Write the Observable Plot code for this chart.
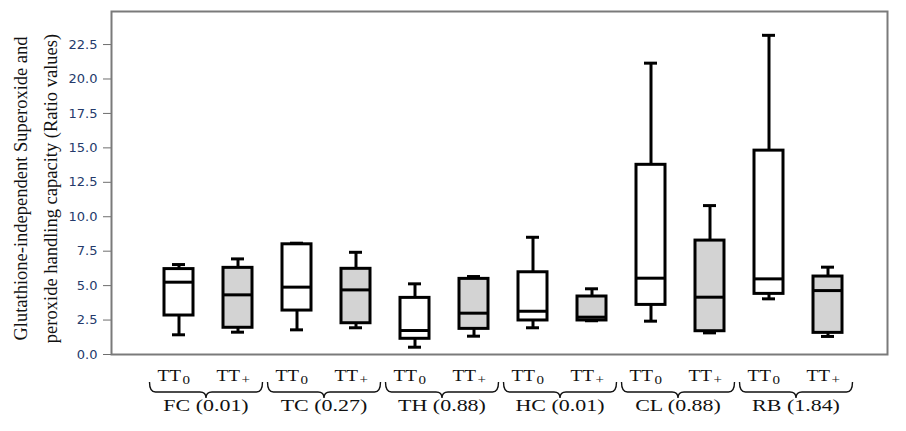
<!DOCTYPE html>
<html><head><meta charset="utf-8">
<script src="https://cdn.jsdelivr.net/npm/d3@7"></script>
<script src="https://cdn.jsdelivr.net/npm/@observablehq/plot@0.6"></script>
<style>body{margin:0;background:#fff}#chart{width:906px;height:431px}</style>
</head><body><div id="chart"></div>
<script>
const groups = ["FC", "TC", "TH", "HC", "CL", "RB"];
const groupLabels = ["FC (0.01)", "TC (0.27)", "TH (0.88)", "HC (0.01)", "CL (0.88)", "RB (1.84)"];
const treatments = ["TT0", "TT+"];
const subscripts = ["0", "+"];
const boxFills = ["#ffffff", "#d3d3d3"];
// order: FC TT0, FC TT+, TC TT0, TC TT+, ...
const whiskerLow  = [1.43, 1.62, 1.79, 1.94, 0.53, 1.33, 1.94, 2.45, 2.42, 1.57, 4.04, 1.31];
const q1          = [2.83, 1.94, 3.19, 2.27, 1.14, 1.86, 2.47, 2.47, 3.60, 1.69, 4.40, 1.57];
const median      = [5.25, 4.33, 4.89, 4.69, 1.74, 3.00, 3.14, 2.71, 5.54, 4.16, 5.49, 4.64];
const q3          = [6.20, 6.29, 8.00, 6.22, 4.11, 5.49, 5.97, 4.21, 13.77, 8.27, 14.80, 5.66];
const whiskerHigh = [6.53, 6.94, 8.08, 7.42, 5.13, 5.66, 8.51, 4.77, 21.15, 10.81, 23.17, 6.34];
const yTicks = [0, 2.5, 5, 7.5, 10, 12.5, 15, 17.5, 20, 22.5];
const yTitle = "Glutathione-independent Superoxide and\nperoxide handling capacity (Ratio values)";

const rows = [];
groups.forEach((g, gi) => treatments.forEach((t, ti) => {
  const i = gi * 2 + ti;
  rows.push({key: g + "|" + t, group: g, ti, sub: subscripts[ti], fill: boxFills[ti],
    low: whiskerLow[i], q1: q1[i], med: median[i], q3: q3[i], high: whiskerHigh[i]});
}));
const groupRows = groups.map((g, gi) => ({key: g + "|" + treatments[0], label: groupLabels[gi]}));

const serif = "'Liberation Serif', 'Times New Roman', serif";
const plot = Plot.plot({
  width: 906, height: 431,
  marginLeft: 111, marginRight: 19, marginTop: 11, marginBottom: 77,
  style: {background: "#fff", fontFamily: "'DejaVu Sans', sans-serif"},
  x: {domain: rows.map(d => d.key), paddingInner: 0.508, paddingOuter: 0.83, align: 0.536, axis: null},
  y: {domain: [0, 24.9], axis: null},
  marks: [
    Plot.axisY(yTicks, {tickSize: 8, tickPadding: 6, tickFormat: d => d.toFixed(1), fontSize: 13,
      stroke: "#6e6e6e", fill: "#243a6b", label: null}),
    Plot.frame({stroke: "#7a7a7a", strokeWidth: 2}),
    Plot.ruleX(rows, {x: "key", y1: "low", y2: "q1", stroke: "black", strokeWidth: 3}),
    Plot.ruleX(rows, {x: "key", y1: "q3", y2: "high", stroke: "black", strokeWidth: 3}),
    Plot.tickY(rows, {x: "key", y: "low", stroke: "black", strokeWidth: 3, insetLeft: 8, insetRight: 8}),
    Plot.tickY(rows, {x: "key", y: "high", stroke: "black", strokeWidth: 3, insetLeft: 8, insetRight: 8}),
    Plot.barY(rows, {x: "key", y1: "q1", y2: "q3", fill: "fill", stroke: "black", strokeWidth: 3}),
    Plot.tickY(rows, {x: "key", y: "med", stroke: "black", strokeWidth: 3}),
    Plot.text(rows, {x: "key", text: () => "TT", frameAnchor: "bottom", lineAnchor: "bottom",
      textAnchor: "end", dx: 2, dy: 26, fontSize: 17.5, fontFamily: serif, fill: "#111"}),
    Plot.text(rows, {x: "key", text: "sub", frameAnchor: "bottom", lineAnchor: "bottom",
      textAnchor: "start", dx: 3.5, dy: 29, fontSize: 12.5, fontFamily: serif, fill: "#111"}),
    Plot.text(groupRows, {x: "key", text: "label", frameAnchor: "bottom", lineAnchor: "bottom",
      dx: 27, dy: 56, fontSize: 16.5, fontFamily: serif, fill: "#111"}),
    Plot.text([yTitle], {text: d => d, frameAnchor: "left", rotate: -90, dx: -79, dy: 5.5,
      textAnchor: "middle", lineAnchor: "middle",
      lineHeight: 1.6, fontSize: 18.5, fontFamily: serif, fill: "#111"})
  ]
});

// curly braces under each pair, positioned with the plot's own x scale
const xs = plot.scale("x");
const bw = xs.bandwidth;
const gB = d3.select(plot).append("g").attr("fill", "none").attr("stroke", "#111").attr("stroke-width", 1.4);
groups.forEach(g => {
  const c0 = xs.apply(g + "|" + treatments[0]) + bw / 2;
  const c1 = xs.apply(g + "|" + treatments[1]) + bw / 2;
  const x0 = c0 - 29, x1 = c1 + 25, xm = (x0 + x1) / 2;
  const yT = 382, yL = 392, yP = 398, r = 6;
  gB.append("path").attr("d",
    `M${x0},${yT} Q${x0},${yL} ${x0 + r},${yL} L${xm - r},${yL} Q${xm},${yL} ${xm},${yP} ` +
    `Q${xm},${yL} ${xm + r},${yL} L${x1 - r},${yL} Q${x1},${yL} ${x1},${yT}`);
});
document.getElementById("chart").appendChild(plot);

// the reference's serif labels are drawn wide: stretch them horizontally
d3.select(plot).selectAll("text").each(function () {
  const t = this.textContent;
  const k = groupLabels.includes(t) ? 1.33 : t === "TT" ? 1.1 : subscripts.includes(t) ? 1.2 : 0;
  if (k) {
    const w = this.getComputedTextLength();
    if (w > 0) {
      this.setAttribute("textLength", (w * k).toFixed(1));
      this.setAttribute("lengthAdjust", "spacingAndGlyphs");
    }
  }
});
</script>
</body></html>
